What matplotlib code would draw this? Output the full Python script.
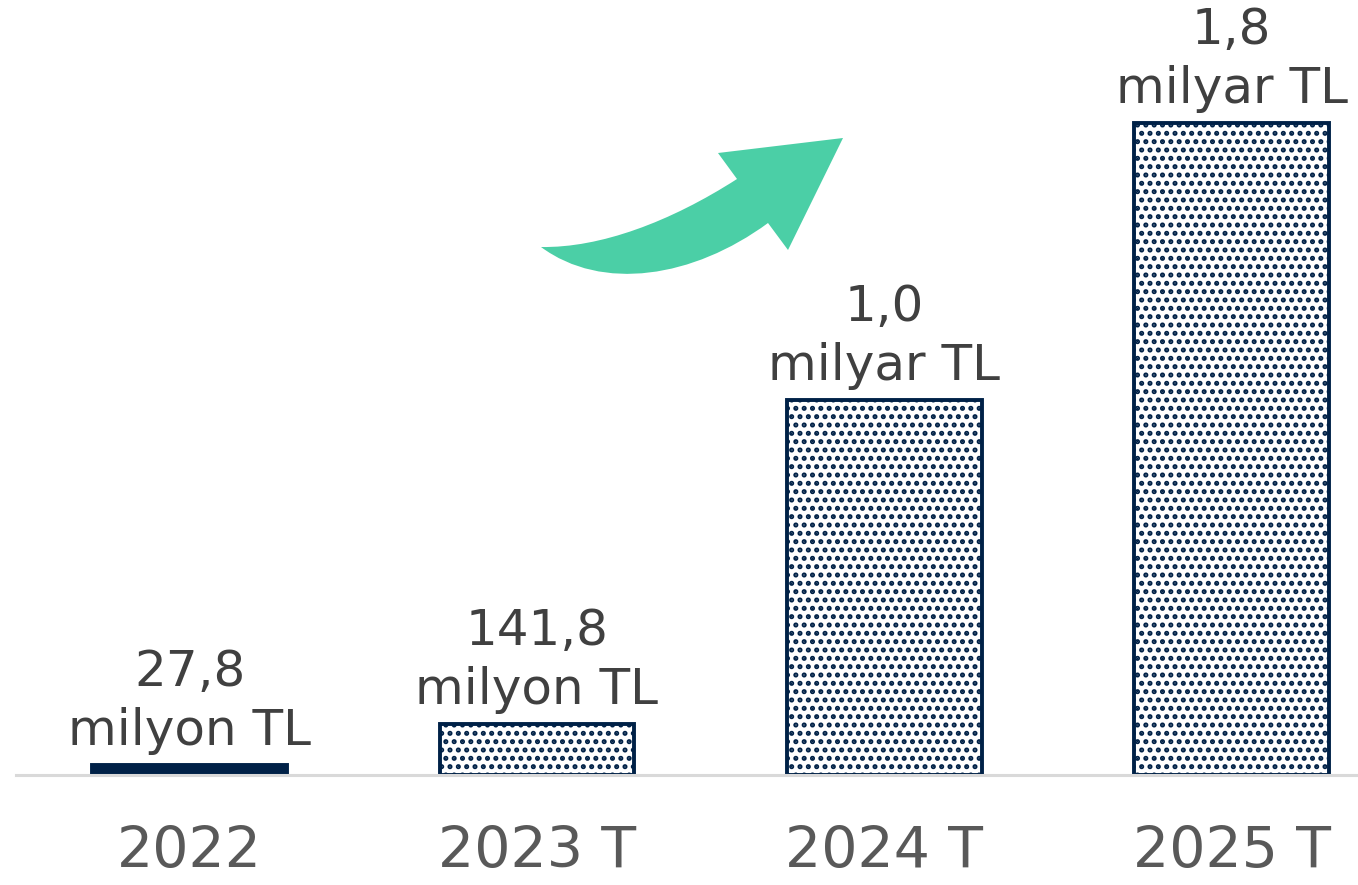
import matplotlib.pyplot as plt
from matplotlib.path import Path
from matplotlib.patches import PathPatch

plt.rcParams['hatch.linewidth'] = 2.4
plt.rcParams['hatch.color'] = '#002147'

# values in million TL
years = ['2022', '2023 T', '2024 T', '2025 T']
values = [27.8, 141.8, 1035, 1800]
labels = ['27,8\nmilyon TL', '141,8\nmilyon TL', '1,0\nmilyar TL', '1,8\nmilyar TL']
forecast = [False, True, True, True]

navy = '#002147'

fig = plt.figure(figsize=(13.58, 8.85), dpi=100)
ax = fig.add_axes([16 / 1358, 110 / 885, 1342 / 1358, 775 / 885])

x = list(range(len(years)))
for i in x:
    if forecast[i]:
        ax.bar(i, values[i], width=0.56, color='white', edgecolor=navy,
               linewidth=2.8, hatch='..', zorder=2)
    else:
        ax.bar(i, values[i], width=0.56, color=navy, edgecolor=navy,
               linewidth=2.8, zorder=2)
    ax.annotate(labels[i], (i, values[i]), xytext=(0, 7), textcoords='offset points',
                ha='center', va='bottom', fontsize=36, color='#404040',
                linespacing=1.3)

ax.set_xlim(-0.5, 3.364)
ax.set_ylim(0, 2140)
ax.set_xticks(x)
ax.set_xticklabels(years, fontsize=41, color='#595959')
ax.tick_params(axis='x', length=0, pad=36)
ax.set_yticks([])
for s in ['top', 'right', 'left']:
    ax.spines[s].set_visible(False)
ax.spines['bottom'].set_color('#D9D9D9')
ax.spines['bottom'].set_linewidth(2.2)

# curved growth arrow, drawn in figure pixels (y from top)
pts = [(541, 247), (600, 248), (670, 222), (737, 179), (718, 153), (843, 138),
       (788, 250), (768, 223), (693, 278), (602, 292), (541, 247)]
codes = [Path.MOVETO, Path.CURVE4, Path.CURVE4, Path.CURVE4, Path.LINETO,
         Path.LINETO, Path.LINETO, Path.LINETO, Path.CURVE4, Path.CURVE4,
         Path.CURVE4]
verts = [(px / 1358, 1 - py / 885) for px, py in pts]
fig.patches.append(PathPatch(Path(verts, codes), transform=fig.transFigure,
                             facecolor='#4BCFA6', edgecolor='none'))

fig.savefig('out.png', dpi=100)
